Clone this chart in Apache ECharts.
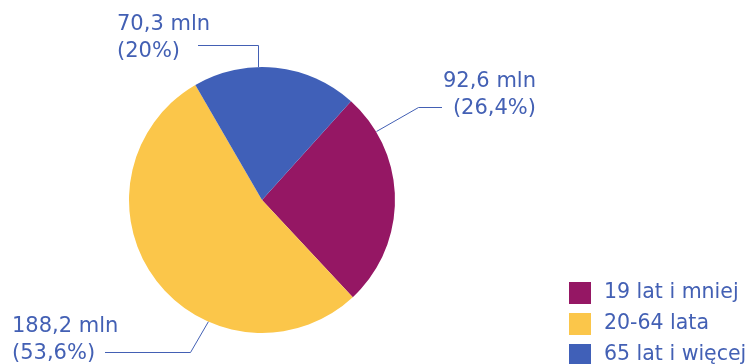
<!DOCTYPE html>
<html><head><meta charset="utf-8">
<script src="https://cdn.jsdelivr.net/npm/echarts@6/dist/echarts.min.js"></script>
<style>html,body{margin:0;padding:0;background:#fff}#c{width:754px;height:364px}</style>
</head><body><div id="c"></div>
<script>
const categories = ['19 lat i mniej', '20-64 lata', '65 lat i więcej'];
const values = [92.6, 188.2, 70.3];
const colors = ['#951764', '#fbc64a', '#4060b8'];
const textColor = '#4360b4';

const CX = 262, CY = 200, R = 133;
const total = values.reduce((a, b) => a + b, 0);
function fmtPct(v) {
  let s = (v / total * 100).toFixed(1).replace('.', ',');
  if (s.endsWith(',0')) s = s.slice(0, -2);
  return s + '%';
}
// label placement (styling)
const labelPos = [
  { x: 536, y: 95, align: 'right', anchor: 59, mid: [418.5, 107.5], end: [442, 107.5] },
  { x: 12, y: 340, align: 'left', anchor: 204, mid: [190.5, 352.5], end: [105, 352.5] },
  { x: 117, y: 38, align: 'left', anchor: -1.7, mid: null, end: [198, 45.5] }
];
function anchorPt(a) {
  const t = a * Math.PI / 180;
  return [Math.round(CX + R * Math.sin(t)) + 0.5, CY - R * Math.cos(t)];
}

const chart = echarts.init(document.getElementById('c'));
chart.setOption({
  animation: false,
  color: colors,
  legend: {
    orient: 'vertical',
    left: 569, top: 282, height: 200,
    padding: 0,
    itemWidth: 22, itemHeight: 22, itemGap: 9,
    icon: 'rect',
    textStyle: { color: textColor, fontSize: 20.5, fontFamily: 'DejaVu Sans', padding: [0, 0, 0, 8] },
    data: categories
  },
  series: [{
    type: 'pie',
    center: [CX, CY],
    radius: R,
    startAngle: 48,
    clockwise: true,
    data: categories.map((c, i) => ({ name: c, value: values[i] })),
    label: {
      show: true,
      position: 'outside',
      color: textColor,
      fontSize: 21,
      lineHeight: 27,
      overflow: 'none',
      fontFamily: 'DejaVu Sans',
      formatter: p => p.value.toFixed(1).replace('.', ',') + ' mln\n(' + fmtPct(p.value) + ')'
    },
    labelLine: { show: true, lineStyle: { color: textColor, width: 1 } },
    labelLayout: function (params) {
      const L = labelPos[params.dataIndex];
      const s = anchorPt(L.anchor);
      const mid = L.mid || [s[0], L.end[1]];
      return {
        x: L.x, y: L.y, align: L.align, verticalAlign: 'middle',
        labelLinePoints: [s, mid, L.end]
      };
    },
    emphasis: { disabled: true }
  }]
});
</script></body></html>
